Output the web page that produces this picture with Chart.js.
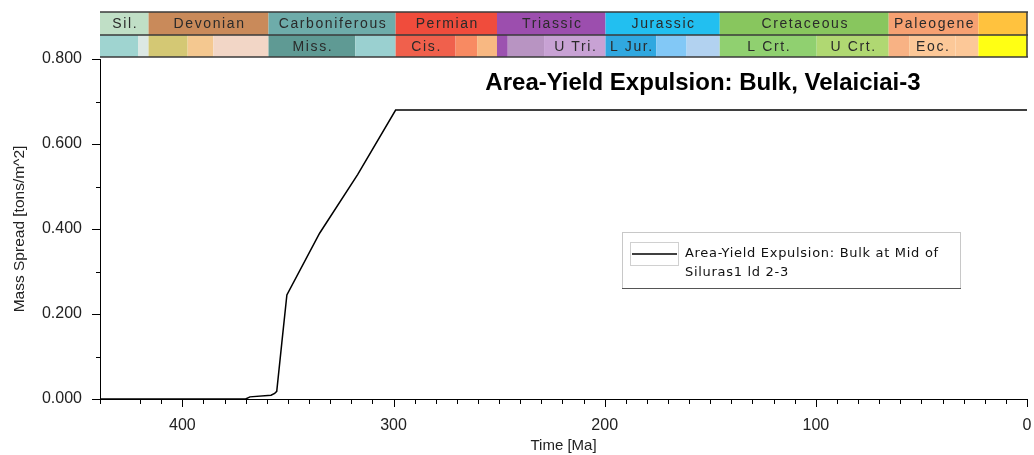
<!DOCTYPE html>
<html>
<head>
<meta charset="utf-8">
<script src="https://cdn.jsdelivr.net/npm/chart.js"></script>
<style>
  html, body { margin: 0; padding: 0; background: #fff; }
  #wrap { width: 1034px; height: 455px; }
</style>
</head>
<body>
<div id="wrap"><canvas id="myChart"></canvas></div>
<script>
// curve
const timeMa = [439, 370, 368, 358, 356.3, 355.3, 352.9, 350.5, 335, 317, 299, 0];
const massSpread = [0, 0, 0.005, 0.009, 0.013, 0.018, 0.132, 0.245, 0.39, 0.528, 0.68, 0.68];
const seriesLabel = ['Area-Yield Expulsion: Bulk at Mid of', 'Siluras1 ld 2-3'];
const chartTitle = 'Area-Yield Expulsion: Bulk, Velaiciai-3';

// geologic periods (top row)
const periodNames = ['Sil.', 'Devonian', 'Carboniferous', 'Permian', 'Triassic', 'Jurassic', 'Cretaceous', 'Paleogene', ''];
const periodStart = [443.7, 416, 359.2, 299, 251, 199.6, 145.5, 65.5, 23];
const periodEnd = [416, 359.2, 299, 251, 199.6, 145.5, 65.5, 23, 0];
const periodColors = ['#c0dfc6', '#c98a5a', '#6eacaa', '#f04c3c', '#9c4eae', '#22bff0', '#88c65e', '#f6a172', '#ffc23e'];

// epochs (second row)
const epochNames = ['', '', '', '', '', 'Miss.', '', 'Cis.', '', '', '', '', 'U Tri.', 'L Jur.', '', '', 'L Crt.', 'U Crt.', '', 'Eoc.', '', ''];
const epochStart = [443.7, 421, 416, 397.5, 385.3, 359.2, 318.1, 299, 270.6, 260.4, 251, 245.9, 228.7, 199.6, 175.6, 161.2, 145.5, 99.6, 65.5, 55.8, 33.9, 23];
const epochEnd = [421, 416, 397.5, 385.3, 359.2, 318.1, 299, 270.6, 260.4, 251, 245.9, 228.7, 199.6, 175.6, 161.2, 145.5, 99.6, 65.5, 55.8, 33.9, 23, 0];
const epochColors = ['#9fd4d0', '#dce8e4', '#d4c874', '#f4c890', '#f2d6c6', '#5f9a94', '#9ad0d0', '#f0604c', '#f88a62', '#f8b882',
  '#9c52b0', '#b894c2', '#c8a2d4', '#30a8e0', '#82c8f6', '#b2d2f0', '#90d070', '#b0d872', '#f8b284', '#fcc898', '#fcc898', '#ffff14'];

const Y_MIN = 0, Y_MAX = 0.8;
const X_MIN = 0, X_MAX = 439;

const points = timeMa.map((t, i) => ({x: t, y: massSpread[i]}));

Chart.defaults.font.family = "'Liberation Sans', Arial, sans-serif";
Chart.defaults.color = '#222';

const overlay = {
  id: 'overlay',
  afterDraw(chart) {
    const ctx = chart.ctx;
    const xs = chart.scales.x;
    const ys = chart.scales.y;
    const area = chart.chartArea;
    ctx.save();

    // time bands
    const rows = [
      {top: 12, bottom: 35, names: periodNames, s: periodStart, e: periodEnd, c: periodColors},
      {top: 35, bottom: 57, names: epochNames, s: epochStart, e: epochEnd, c: epochColors}
    ];
    rows.forEach(r => {
      for (let i = 0; i < r.names.length; i++) {
        let x1 = Math.max(xs.getPixelForValue(r.s[i]), area.left);
        let x2 = Math.min(xs.getPixelForValue(r.e[i]), area.right);
        ctx.fillStyle = r.c[i];
        ctx.fillRect(x1, r.top, x2 - x1, r.bottom - r.top);
      }
      ctx.font = "14px 'Liberation Sans', Arial";
      ctx.letterSpacing = '1.6px';
      ctx.fillStyle = '#2a2a2a';
      ctx.textAlign = 'center';
      ctx.textBaseline = 'middle';
      for (let i = 0; i < r.names.length; i++) {
        if (!r.names[i]) continue;
        let x1 = Math.max(xs.getPixelForValue(r.s[i]), area.left);
        let x2 = Math.min(xs.getPixelForValue(r.e[i]), area.right);
        ctx.fillText(r.names[i], (x1 + x2) / 2 + 1, (r.top + r.bottom) / 2 + 1);
      }
      ctx.letterSpacing = '0px';
    });
    ctx.strokeStyle = '#3a3a3a';
    ctx.lineWidth = 1.5;
    [12, 35, 57].forEach(y => {
      ctx.beginPath();
      ctx.moveTo(area.left, y);
      ctx.lineTo(area.right + 1, y);
      ctx.stroke();
    });
    ctx.beginPath();
    ctx.moveTo(area.right, 12);
    ctx.lineTo(area.right, 57);
    ctx.stroke();

    // tick marks
    ctx.strokeStyle = '#000';
    ctx.lineWidth = 1;
    xs.ticks.forEach(t => {
      const px = Math.round(xs.getPixelForValue(t.value)) + 0.5;
      const len = t.label ? 8 : 5;
      ctx.beginPath();
      ctx.moveTo(px, area.bottom);
      ctx.lineTo(px, area.bottom + len);
      ctx.stroke();
    });
    ys.ticks.forEach(t => {
      const py = Math.round(ys.getPixelForValue(t.value)) + 0.5;
      const len = t.label ? 8 : 4;
      ctx.beginPath();
      ctx.moveTo(area.left, py);
      ctx.lineTo(area.left - len, py);
      ctx.stroke();
    });

    // title
    ctx.font = "bold 24px 'Liberation Sans', Arial";
    ctx.fillStyle = '#000';
    ctx.textAlign = 'center';
    ctx.textBaseline = 'alphabetic';
    ctx.fillText(chartTitle, 703, 90);

    // legend
    const lx = 622, ly = 232, lw = 338, lh = 56;
    ctx.fillStyle = '#fff';
    ctx.fillRect(lx, ly, lw, lh);
    ctx.strokeStyle = '#c8c8c8';
    ctx.strokeRect(lx + 0.5, ly + 0.5, lw, lh);
    ctx.strokeStyle = '#555';
    ctx.beginPath();
    ctx.moveTo(lx, ly + lh + 0.5);
    ctx.lineTo(lx + lw + 1, ly + lh + 0.5);
    ctx.stroke();
    ctx.strokeStyle = '#d0d0d0';
    ctx.strokeRect(630.5, 242.5, 48, 23);
    ctx.strokeStyle = '#000';
    ctx.lineWidth = 1.5;
    ctx.beginPath();
    ctx.moveTo(632, 254);
    ctx.lineTo(677, 254);
    ctx.stroke();
    ctx.font = "13px 'DejaVu Sans', sans-serif";
    ctx.letterSpacing = '0.7px';
    ctx.fillStyle = '#111';
    ctx.textAlign = 'left';
    ctx.textBaseline = 'middle';
    ctx.fillText(seriesLabel[0], 685, 254);
    ctx.fillText(seriesLabel[1], 685, 273);

    ctx.restore();
  }
};

const ctx = document.getElementById('myChart').getContext('2d');
const myChart = new Chart(ctx, {
  type: 'line',
  data: {
    datasets: [{
      label: seriesLabel.join(' '),
      data: points,
      borderColor: '#000',
      borderWidth: 1.5,
      pointRadius: 0,
      tension: 0,
      fill: false
    }]
  },
  options: {
    responsive: true,
    maintainAspectRatio: false,
    animation: false,
    layout: {padding: {top: 59, right: 7, left: 0, bottom: 0}},
    plugins: {legend: {display: false}, tooltip: {enabled: false}},
    scales: {
      x: {
        type: 'linear',
        reverse: true,
        min: X_MIN,
        max: X_MAX,
        afterFit: s => { s.height = 56; s.paddingLeft = 0; s.paddingRight = 0; },
        grid: {drawOnChartArea: false, tickLength: 8, tickColor: 'transparent'},
        border: {color: '#000', width: 1},
        ticks: {
          stepSize: 10,
          autoSkip: false,
          maxRotation: 0,
          padding: 9,
          font: {size: 16},
          color: '#222',
          callback: v => (v % 100 === 0 ? String(v) : '')
        },
        title: {display: true, text: 'Time [Ma]', font: {size: 15}, color: '#222', padding: {top: 0, bottom: 0}}
      },
      y: {
        min: Y_MIN,
        max: Y_MAX,
        afterFit: s => { s.width = 100; s.paddingTop = 0; s.paddingBottom = 0; },
        grid: {drawOnChartArea: false, tickLength: 8, tickColor: 'transparent'},
        border: {color: '#000', width: 1},
        ticks: {
          stepSize: 0.1,
          padding: 10,
          font: {size: 16},
          color: '#222',
          callback: v => (Math.round(v * 10) % 2 === 0 ? v.toFixed(3) : '')
        },
        title: {display: true, text: 'Mass Spread [tons/m^2]', font: {size: 15.5}, color: '#222', padding: {top: 10, bottom: 0}}
      }
    }
  },
  plugins: [overlay]
});
</script>
</body>
</html>
